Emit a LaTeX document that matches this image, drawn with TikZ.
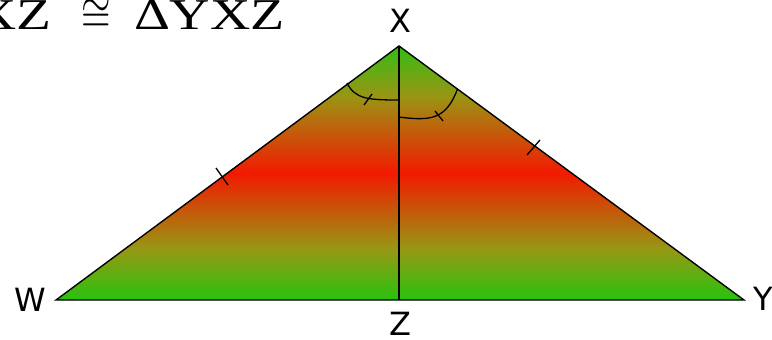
\documentclass[tikz,border=0pt]{standalone}
\usepackage{fontspec}
\newfontfamily\labfont{DejaVu Sans}
\newfontfamily\eqfont{Liberation Serif}
\pgfdeclareverticalshading{tri}{100bp}{%
  color(0bp)=(rgb,255:red,40;green,194;blue,14);
  color(25bp)=(rgb,255:red,40;green,194;blue,14);
  color(35bp)=(rgb,255:red,150;green,152;blue,20);
  color(50bp)=(rgb,255:red,242;green,26;blue,0);
  color(65bp)=(rgb,255:red,155;green,148;blue,20);
  color(75bp)=(rgb,255:red,50;green,190;blue,20);
  color(100bp)=(rgb,255:red,50;green,190;blue,20)}
\begin{document}
\begin{tikzpicture}[x=1pt,y=-1pt,
  edge/.style={draw=black,line width=1.4pt,line join=miter},
  tickmark/.style={draw=black,line width=1.3pt},
  lab/.style={font=\labfont\fontsize{32}{36}\selectfont,inner sep=0pt},
  eqtext/.style={font=\eqfont\fontsize{44}{48}\selectfont,inner sep=0pt}]
\useasboundingbox (0,0) rectangle (772,340);
\coordinate (X) at (399,46);
\coordinate (W) at (56,300);
\coordinate (Y) at (744,300);
\coordinate (Z) at (399,300);
\shade[shading=tri] (W) -- (X) -- (Y) -- cycle;
\draw[edge] (W) -- (X) -- (Y) -- cycle;
\draw[edge] (X) -- (Z);
% angle marks
\draw[tickmark] (347,83) .. controls (355,99) and (368,100) .. (399,100);
\draw[tickmark] (372,94) -- (364,105);
\draw[tickmark] (399,117) .. controls (430,121) and (446,120) .. (457.5,89);
\draw[tickmark] (435,111) -- (443,121);
% side ticks
\draw[tickmark] (216,168) -- (228,185);
\draw[tickmark] (540,140) -- (527,155);
% labels
\node[lab,anchor=south] (lX) at (400,33) {X};
\node[lab,anchor=base east] (lW) at (46,311) {W};
\node[lab,anchor=base west] (lY) at (753,310) {Y};
\node[lab,anchor=north] (lZ) at (400,312) {Z};
\node[eqtext,anchor=base east] (eqL) at (52,29.5) {\scalebox{1.3}[1]{ΔWXZ}};
\node[inner sep=0pt,anchor=base] (cong) at (96,30.5) {\scalebox{3.8}[5]{$\cong$}};
\node[eqtext,anchor=base east] (eqR) at (285,29.5) {\scalebox{1.27}[1]{ΔYXZ}};
\end{tikzpicture}
\end{document}
